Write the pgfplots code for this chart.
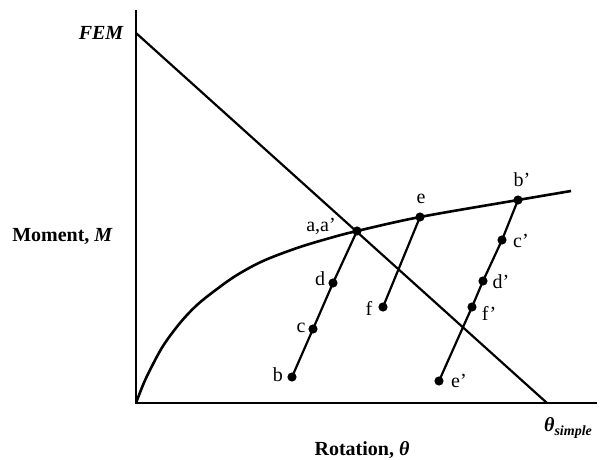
\documentclass[border=0pt]{standalone}
\usepackage{fontspec}
\setmainfont{Liberation Serif}
\usepackage{pgfplots}
\pgfplotsset{compat=1.18}
\newcommand\lbl{\fontsize{20}{24}\selectfont}

\begin{document}
\begin{tikzpicture}
\begin{axis}[
  x=1pt, y=1pt,
  xmin=0, xmax=461, ymin=0, ymax=393,
  hide axis,
  clip=false,
]
% page extent
\path (axis cs:-136,-56) rectangle (axis cs:464,403);

% axes
\addplot[black, line width=2.6pt, line join=miter] coordinates {(0,393) (0,0) (461,0)};

% fixed-end-moment line
\addplot[black, line width=2.2pt] coordinates {(0,370) (411,0)};

% moment-rotation curve of the connection
\addplot[black, line width=2.6pt, smooth, tension=0.55] coordinates {
  (0,0) (7,18) (14,33) (27,57) (44,80) (61,98) (81,114) (101,128)
  (127,142) (161,155) (194,165) (221,172) (284,186) (382,203) (435,212)};

% unloading/reloading paths
\addplot[black, line width=2.2pt, mark=*, mark size=3.4pt]
  coordinates {(221,172) (197,120) (177,74) (156,26)};
\addplot[black, line width=2.2pt, mark=*, mark size=3.4pt]
  coordinates {(284,186) (247,96)};
\addplot[black, line width=2.2pt, mark=*, mark size=3.4pt]
  coordinates {(382,203) (366,163) (347,122) (336,96) (303,22)};

% point labels
\node[inner sep=0pt] at (axis cs:185,177) {\lbl a,a’};
\node[inner sep=0pt] at (axis cs:184,124) {\lbl d};
\node[inner sep=0pt] at (axis cs:165,75) {\lbl c};
\node[inner sep=0pt] at (axis cs:142,28) {\lbl b};
\node[inner sep=0pt] at (axis cs:285,204) {\lbl e};
\node[inner sep=0pt] at (axis cs:233,95) {\lbl f};
\node[inner sep=0pt] at (axis cs:386,223) {\lbl b’};
\node[inner sep=0pt] at (axis cs:385,162) {\lbl c’};
\node[inner sep=0pt] at (axis cs:365,121) {\lbl d’};
\node[inner sep=0pt] at (axis cs:353,90) {\lbl f’};
\node[inner sep=0pt] at (axis cs:323,22) {\lbl e’};

% axis annotations
\node[inner sep=0pt, anchor=east] at (axis cs:-12,370) {\lbl\textbf{\textit{FEM}}};
\node[inner sep=0pt, anchor=east] at (axis cs:-23,167) {\lbl\textbf{Moment, \textit{M}}};
\node[inner sep=0pt] at (axis cs:226,-47) {\lbl\textbf{Rotation, \textit{θ}}};
\node[inner sep=0pt] at (axis cs:432,-25) {\lbl\textbf{\textit{θ}}\raisebox{-0.4ex}{\fontsize{14}{16}\selectfont\textbf{\textit{simple}}}};
\end{axis}
\end{tikzpicture}
\end{document}
